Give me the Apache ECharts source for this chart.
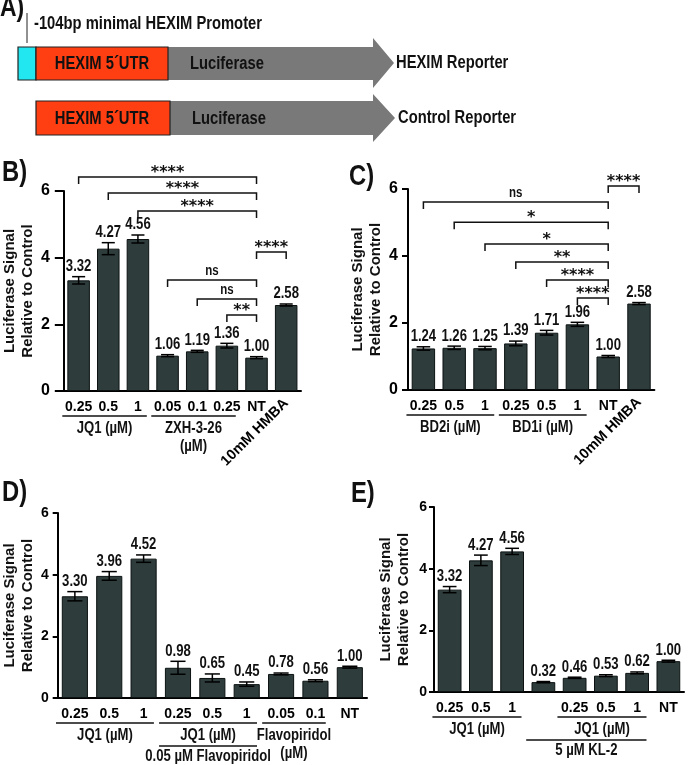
<!DOCTYPE html>
<html>
<head>
<meta charset="utf-8">
<script src="https://cdn.jsdelivr.net/npm/echarts@6/dist/echarts.min.js"></script>
<style>
html,body{margin:0;padding:0;background:#fff}
#main{width:688px;height:765px}
</style>
</head>
<body>
<div id="main"></div>
<script>
// HEXIM reporter luciferase assays (panels B-E) + reporter scheme (A)
var FONT = '"Liberation Sans", Arial, sans-serif'
var STAR_FONT = '"DejaVu Sans", sans-serif'
var NARROW = 0.82   // squeeze Liberation Sans to look like the narrow bold face of the original

// B) JQ1 / ZXH-3-26
var bCats = ['0.25', '0.5', '1', '0.05', '0.1', '0.25', 'NT', '10mM HMBA']
var bMean = [3.32, 4.27, 4.56, 1.06, 1.19, 1.36, 1.00, 2.58]
var bErr = [0.11, 0.18, 0.12, 0.03, 0.03, 0.07, 0.03, 0.03]
var bSig = [[0, 6, 6.42, '****'], [1, 6, 5.94, '****'], [2, 6, 5.40, '****'], [6, 7, 4.17, '****'],
            [3, 6, 3.33, 'ns'], [4, 6, 2.76, 'ns'], [5, 6, 2.28, '**']]
var bGroups = [[0, 2, 'JQ1 (µM)', 0], [3, 5, 'ZXH-3-26\n(µM)', 0]]

// C) BD2i / BD1i
var cCats = ['0.25', '0.5', '1', '0.25', '0.5', '1', 'NT', '10mM HMBA']
var cMean = [1.24, 1.26, 1.25, 1.39, 1.71, 1.96, 1.00, 2.58]
var cErr = [0.05, 0.05, 0.05, 0.07, 0.07, 0.06, 0.03, 0.03]
var cSig = [[0, 6, 5.61, 'ns'], [1, 6, 5.01, '*'], [2, 6, 4.36, '*'], [3, 6, 3.82, '**'],
            [4, 6, 3.28, '****'], [5, 6, 2.75, '****'], [6, 7, 6.09, '****']]
var cGroups = [[0, 2, 'BD2i (µM)', 0], [3, 5, 'BD1i (µM)', 0]]

// D) JQ1 + Flavopiridol
var dCats = ['0.25', '0.5', '1', '0.25', '0.5', '1', '0.05', '0.1', 'NT']
var dMean = [3.30, 3.96, 4.52, 0.98, 0.65, 0.45, 0.78, 0.56, 1.00]
var dErr = [0.15, 0.14, 0.12, 0.21, 0.13, 0.07, 0.03, 0.03, 0.03]
var dGroups = [[0, 2, 'JQ1 (µM)', 0], [3, 5, 'JQ1 (µM)', 0], [3, 5, '0.05 µM Flavopiridol', 1],
               [6, 7, 'Flavopiridol\n(µM)', 0]]

// E) JQ1 + KL-2
var eCats = ['0.25', '0.5', '1', '', '0.25', '0.5', '1', 'NT']
var eMean = [3.32, 4.27, 4.56, 0.32, 0.46, 0.53, 0.62, 1.00]
var eErr = [0.10, 0.17, 0.10, 0.02, 0.02, 0.03, 0.03, 0.03]
var eGroups = [[0, 2, 'JQ1 (µM)', 0], [4, 6, 'JQ1 (µM)', 0], [3, 6, '5 µM KL-2', 1]]

var panels = [
    {cats: bCats, mean: bMean, err: bErr, sig: bSig, groups: bGroups, rotated: true,
     grid: {left: 57, top: 191, width: 244, height: 200}, yFont: 16, yMargin: 14, yTick: 9, nameGap: 22},
    {cats: cCats, mean: cMean, err: cErr, sig: cSig, groups: cGroups, rotated: true,
     grid: {left: 408, top: 189, width: 246.4, height: 201}, yFont: 16, yMargin: 10, yTick: 6, nameGap: 21},
    {cats: dCats, mean: dMean, err: dErr, sig: [], groups: dGroups, rotated: false,
     grid: {left: 53, top: 513, width: 314, height: 185}, yFont: 14, yMargin: 9, yTick: 5, nameGap: 20},
    {cats: eCats, mean: eMean, err: eErr, sig: [], groups: eGroups, rotated: false,
     grid: {left: 434, top: 507, width: 250, height: 185}, yFont: 14, yMargin: 7, yTick: 5, nameGap: 21}
]

function errItem(params, api) {
    var i = api.value(0), m = api.value(1), e = api.value(2)
    var hi = api.coord([i, m + e]), lo = api.coord([i, m - e])
    var half = api.size([1, 0])[0] * 0.22
    var ls = {stroke: '#000', lineWidth: 1.5}
    return {type: 'group', children: [
        {type: 'line', shape: {x1: hi[0], y1: hi[1], x2: lo[0], y2: lo[1]}, style: ls},
        {type: 'line', shape: {x1: hi[0] - half, y1: hi[1], x2: hi[0] + half, y2: hi[1]}, style: ls},
        {type: 'line', shape: {x1: lo[0] - half, y1: lo[1], x2: lo[0] + half, y2: lo[1]}, style: ls},
        {type: 'text', x: hi[0], y: hi[1] - 2, scaleX: NARROW,
         style: {text: m.toFixed(2), font: 'bold 16px ' + FONT, fill: '#111', align: 'center', verticalAlign: 'bottom'}}
    ]}
}

function sigItem(labels) {
    return function (params, api) {
        var a = api.coord([api.value(0), api.value(2)])
        var b = api.coord([api.value(1), api.value(2)])
        var t = labels[params.dataIndex]
        var ns = t === 'ns'
        return {type: 'group', children: [
            {type: 'polyline', shape: {points: [[a[0], a[1] + 7], [a[0], a[1]], [b[0], b[1]], [b[0], b[1] + 7]]},
             style: {stroke: '#111', lineWidth: 1.5, fill: 'none'}},
            {type: 'text', x: (a[0] + b[0]) / 2, y: a[1] - (ns ? 9 : 4), scaleX: ns ? NARROW : 1,
             style: {text: t, font: ns ? 'bold 14px ' + FONT : 'bold 16px ' + STAR_FONT, fill: '#111',
                     align: 'center', verticalAlign: 'middle'}}
        ]}
    }
}

function groupItem(texts) {
    return function (params, api) {
        var a = api.coord([api.value(0), 0]), b = api.coord([api.value(1), 0])
        var band = api.size([1, 0])[0]
        var lvl = api.value(2)
        var x1 = a[0] - band * 0.55, x2 = b[0] + band * 0.3
        var ly = a[1] + (lvl ? 48 : 25)
        return {type: 'group', children: [
            {type: 'line', shape: {x1: x1, y1: ly, x2: x2, y2: ly}, style: {stroke: '#111', lineWidth: 1.5}},
            {type: 'text', x: (x1 + x2) / 2, y: ly + (lvl ? 2 : 4), scaleX: NARROW,
             style: {text: texts[params.dataIndex], font: 'bold 16px ' + FONT, lineHeight: 18, fill: '#111',
                     align: 'center', verticalAlign: 'top'}}
        ]}
    }
}

var option = {
    animation: false,
    backgroundColor: '#fff',
    grid: [], xAxis: [], yAxis: [], series: [],
    graphic: []
}

panels.forEach(function (p, k) {
    var xi = option.xAxis.length
    var last = p.cats.length - 1
    option.grid.push(p.grid)
    option.xAxis.push({
        type: 'category', gridIndex: k, data: p.cats, position: 'bottom',
        axisLine: {lineStyle: {color: '#000', width: 2}},
        axisTick: {alignWithLabel: true, length: 5, lineStyle: {color: '#000', width: 1.5}},
        axisLabel: {interval: 0, margin: 9, color: '#000', fontFamily: FONT, fontWeight: 'bold', fontSize: 14,
            formatter: function (v, i) { return p.rotated && i === last ? '' : v }}
    })
    if (p.rotated) {
        option.xAxis.push({
            type: 'category', gridIndex: k, data: p.cats, position: 'bottom',
            axisLine: {show: false}, axisTick: {show: false},
            axisLabel: {interval: 0, rotate: 45, margin: 10, color: '#000', fontFamily: FONT, fontWeight: 'bold', fontSize: 14.5,
                formatter: function (v, i) { return i === last ? v : '' }}
        })
    }
    option.yAxis.push({
        type: 'value', gridIndex: k, min: 0, max: 6, interval: 2,
        name: 'Luciferase Signal\nRelative to Control', nameLocation: 'middle', nameRotate: 90, nameGap: p.nameGap,
        nameTextStyle: {fontFamily: FONT, fontWeight: 'bold', fontSize: 15, lineHeight: 18, color: '#111'},
        axisLine: {show: true, lineStyle: {color: '#000', width: 2}},
        axisTick: {show: true, length: p.yTick, lineStyle: {color: '#000', width: 2}},
        axisLabel: {color: '#000', fontFamily: FONT, fontWeight: 'bold', fontSize: p.yFont, margin: p.yMargin},
        splitLine: {show: false}
    })
    option.series.push({
        type: 'bar', xAxisIndex: xi, yAxisIndex: k, data: p.mean, barWidth: '76%', silent: true,
        itemStyle: {color: '#2e3c3c', borderColor: '#0c1212', borderWidth: 1}
    })
    option.series.push({
        type: 'custom', xAxisIndex: xi, yAxisIndex: k, clip: false, z: 3, silent: true,
        data: p.mean.map(function (m, i) { return [i, m, p.err[i]] }),
        renderItem: errItem
    })
    if (p.sig.length) {
        option.series.push({
            type: 'custom', xAxisIndex: xi, yAxisIndex: k, clip: false, z: 3, silent: true,
            data: p.sig.map(function (s) { return [s[0], s[1], s[2]] }),
            renderItem: sigItem(p.sig.map(function (s) { return s[3] }))
        })
    }
    option.series.push({
        type: 'custom', xAxisIndex: xi, yAxisIndex: k, clip: false, z: 3, silent: true,
        data: p.groups.map(function (g) { return [g[0], g[1], g[3]] }),
        renderItem: groupItem(p.groups.map(function (g) { return g[2] }))
    })
})

// panel A: reporter constructs
var txt = function (x, y, s, size, align) {
    return {type: 'text', x: x, y: y, scaleX: NARROW, style: {text: s, font: 'bold ' + size + 'px ' + FONT, fill: '#111',
        align: align || 'left', verticalAlign: 'middle'}}
}
option.graphic = [
    txt(0, 8, 'A)', 28),
    {type: 'line', shape: {x1: 27, y1: 13, x2: 27, y2: 43}, style: {stroke: '#222', lineWidth: 1}},
    txt(34, 24, '-104bp minimal HEXIM Promoter', 18),
    {type: 'polygon', shape: {points: [[168, 47], [373, 47], [373, 38], [394, 63], [373, 88], [373, 80], [168, 80]]},
     style: {fill: '#797979'}},
    {type: 'rect', shape: {x: 18, y: 47, width: 18, height: 33}, style: {fill: '#22e6f0', stroke: '#222', lineWidth: 1.2}},
    {type: 'rect', shape: {x: 36, y: 47, width: 132, height: 33}, style: {fill: '#ff3f12', stroke: '#222', lineWidth: 1.2}},
    txt(102, 64, 'HEXIM 5´UTR', 18, 'center'),
    txt(190, 64, 'Luciferase', 18),
    txt(396, 63, 'HEXIM Reporter', 18),
    {type: 'polygon', shape: {points: [[170, 101], [373, 101], [373, 94], [395, 118], [373, 142], [373, 135], [170, 135]]},
     style: {fill: '#797979'}},
    {type: 'rect', shape: {x: 36, y: 101, width: 134, height: 34}, style: {fill: '#ff3f12', stroke: '#222', lineWidth: 1.2}},
    txt(102, 119, 'HEXIM 5´UTR', 18, 'center'),
    txt(192, 119, 'Luciferase', 18),
    txt(398, 118, 'Control Reporter', 18),
    txt(2, 173, 'B)', 29),
    txt(349, 177, 'C)', 29),
    txt(2, 493, 'D)', 29),
    txt(351, 494, 'E)', 29)
]

var chart = echarts.init(document.getElementById('main'))
chart.setOption(option)
</script>
</body>
</html>
